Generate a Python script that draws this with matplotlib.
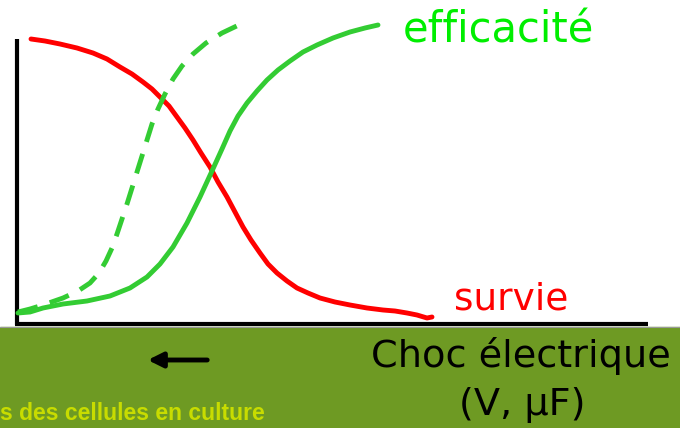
import matplotlib
matplotlib.use("Agg")
import matplotlib.pyplot as plt

# curves, in pixel units (x right, y down)
survie_x = [31, 45, 60, 77, 93, 107, 120, 132, 143, 152, 160, 169, 177, 185, 193, 201,
            210, 218, 227, 235, 243, 251, 260, 268, 277, 287, 297, 308, 320, 335, 350,
            367, 383, 395, 407, 417, 427, 432]
survie_y = [39, 41, 44, 48, 53, 59, 67, 74, 82, 89, 97, 106, 117, 128, 140, 153,
            167, 182, 197, 212, 227, 240, 253, 264, 273, 281, 288, 293, 298, 302, 305,
            308, 310, 311, 313, 315, 318, 317]

eff_x = [18, 30, 43, 63, 87, 110, 130, 147, 160, 173, 187, 200, 212, 222, 230, 238,
         247, 257, 267, 278, 290, 303, 317, 333, 350, 365, 378]
eff_y = [313, 312, 308, 304, 301, 296, 288, 277, 264, 247, 223, 197, 171, 149, 131, 116,
         103, 91, 80, 70, 61, 52, 45, 38, 32, 28, 25]

eff2_x = [18, 30, 43, 63, 78, 90, 99, 106, 112, 117, 122, 127, 132, 137, 142, 147,
          152, 158, 165, 173, 182, 193, 206, 222, 243]
eff2_y = [312, 309, 305, 298, 291, 283, 273, 261, 248, 234, 219, 204, 188, 172, 156, 140,
          124, 109, 94, 79, 66, 54, 43, 33, 23]

RED = "#ff0000"
GREEN = "#33cc33"
BAND = "#6e9a23"

fig = plt.figure(figsize=(6.8, 4.28), dpi=100)
ax = fig.add_axes([0, 0, 1, 1])
ax.set_xlim(0, 680)
ax.set_ylim(428, 0)
ax.axis("off")

# green band at the bottom
ax.axhspan(327, 428, color=BAND, zorder=0)
ax.axhline(326.5, color="#999999", lw=0.8, zorder=1)

# axes lines
ax.plot([17, 17], [39, 325], color="black", lw=3, solid_capstyle="butt")
ax.plot([15, 648], [324, 324], color="black", lw=3, solid_capstyle="butt")

ax.plot(survie_x, survie_y, color=RED, lw=3.5, solid_capstyle="round", solid_joinstyle="round")
ax.plot(eff_x, eff_y, color=GREEN, lw=3.5, solid_capstyle="round", solid_joinstyle="round")
ax.plot(eff2_x, eff2_y, color=GREEN, lw=3.5, dashes=(4.2, 2.6))

ax.text(498, 30, "efficacité", color="#00ee00", fontsize=30, ha="center", va="center")
ax.text(511, 299, "survie", color=RED, fontsize=27, ha="center", va="center")
ax.text(521, 356, "Choc électrique", color="black", fontsize=27.5, ha="center", va="center")
ax.text(522, 405, "(V, µF)", color="black", fontsize=27.5, ha="center", va="center")

ax.annotate("", xy=(145, 360), xytext=(210, 360),
            arrowprops=dict(arrowstyle="-|>", color="black", lw=3.5, mutation_scale=22))

ax.text(0, 414, "s des cellules en culture", color="#c8dc00", fontsize=16.5,
        fontweight="bold", family="Liberation Sans", ha="left", va="center")

fig.savefig("out.png", dpi=100)
